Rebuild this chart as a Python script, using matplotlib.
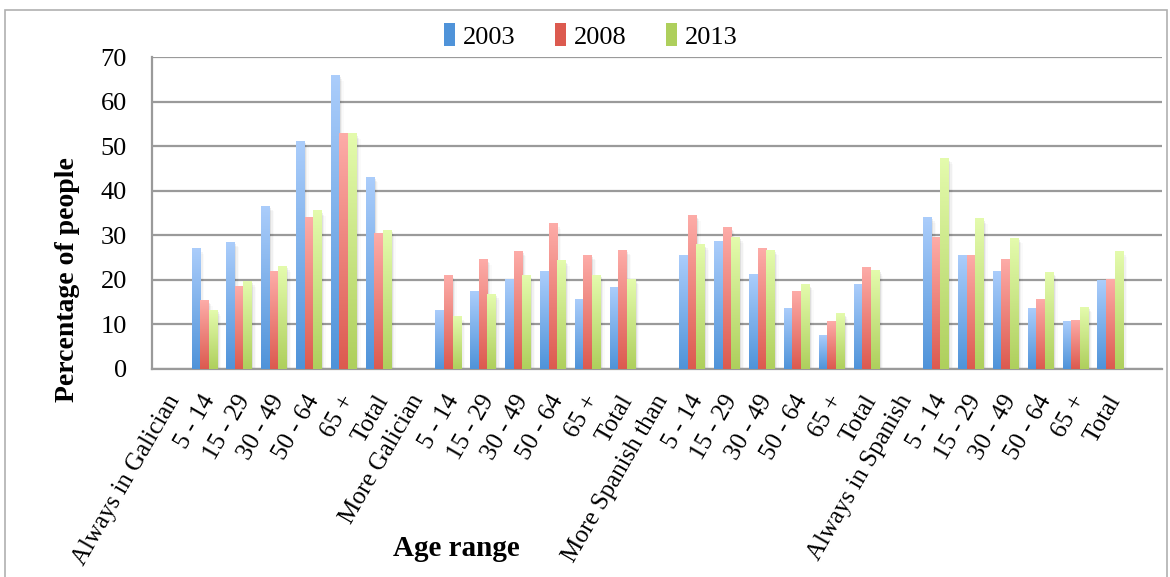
import numpy as np
import matplotlib
matplotlib.use("Agg")
import matplotlib.pyplot as plt
from matplotlib.colors import LinearSegmentedColormap
from matplotlib.patches import Patch, Rectangle
from matplotlib.transforms import ScaledTranslation

plt.rcParams['font.family'] = ['Liberation Serif', 'DejaVu Serif']

categories = ["Always in Galician", "5 - 14", "15 - 29", "30 - 49", "50 - 64", "65 +", "Total",
              "More Galician", "5 - 14", "15 - 29", "30 - 49", "50 - 64", "65 +", "Total",
              "More Spanish than", "5 - 14", "15 - 29", "30 - 49", "50 - 64", "65 +", "Total",
              "Always in Spanish", "5 - 14", "15 - 29", "30 - 49", "50 - 64", "65 +", "Total"]

nan = np.nan
y2003 = [nan, 27.1, 28.5, 36.6, 51.2, 66.0, 43.1,
         nan, 13.2, 17.3, 20.1, 22.0, 15.7, 18.4,
         nan, 25.6, 28.7, 21.3, 13.5, 7.6, 18.9,
         nan, 34.1, 25.6, 21.8, 13.5, 10.6, 19.8]
y2008 = [nan, 15.3, 18.6, 22.0, 34.1, 52.8, 30.4,
         nan, 20.9, 24.5, 26.5, 32.6, 25.6, 26.7,
         nan, 34.4, 31.7, 27.0, 17.3, 10.6, 22.7,
         nan, 29.6, 25.4, 24.5, 15.7, 11.0, 20.2]
y2013 = [nan, 13.2, 19.7, 23.1, 35.5, 52.8, 31.2,
         nan, 11.9, 16.8, 20.9, 24.3, 21.1, 20.2,
         nan, 27.9, 29.6, 26.7, 18.9, 12.4, 22.2,
         nan, 47.2, 33.7, 29.4, 21.6, 13.9, 26.3]

years = ["2003", "2008", "2013"]
series = [y2003, y2008, y2013]
# (top, bottom) colours of the vertical gradient on each bar
grads = [("#abcdfb", "#4f93d9"), ("#fdaca8", "#dc5a4f"), ("#e4fbad", "#aecf5c")]

fig = plt.figure(figsize=(11.7, 5.77), dpi=100)
ax = fig.add_axes([0.130, 0.3605, 0.863, 0.540])

x = np.arange(len(categories))
w = 0.245
grad = np.linspace(1, 0, 256).reshape(-1, 1)

for i, (vals, (top, bot)) in enumerate(zip(series, grads)):
    cmap = LinearSegmentedColormap.from_list(years[i], [bot, top])
    offs = (i - 1) * w
    for xi, v in zip(x, vals):
        if np.isnan(v):
            continue
        x0 = xi + offs - w / 2
        # soft shadow to the right of the bar
        for k, a in enumerate([0.07, 0.04, 0.02]):
            d = 0.04 * (k + 1)
            ax.add_patch(Rectangle((x0 + d, 0), w, max(v - 0.4 * (k + 1), 0),
                                   facecolor='black', edgecolor='none', alpha=a, zorder=2))
        ax.imshow(grad, extent=(x0, x0 + w, 0, v), aspect='auto', cmap=cmap,
                  vmin=0, vmax=1, zorder=3, interpolation='bilinear')

ax.set_xlim(-0.5, 28.48)
ax.set_ylim(0, 70)
ax.set_yticks(np.arange(0, 71, 10))
ax.yaxis.grid(True, color='#9a9a9a', linewidth=1.6, zorder=1)
ax.set_axisbelow(True)
for s in ['top', 'right']:
    ax.spines[s].set_visible(False)
for s in ['left', 'bottom']:
    ax.spines[s].set_color('#9a9a9a')
    ax.spines[s].set_linewidth(1.6)
ax.tick_params(axis='both', length=0, labelsize=19)
ax.tick_params(axis='y', pad=18)

ax.set_xticks(x)
ax.set_xticklabels(categories, rotation=60, ha='right', va='top',
                   rotation_mode='anchor', fontsize=18)
shift = ScaledTranslation(-0.04, -0.17, fig.dpi_scale_trans)
for lab in ax.get_xticklabels():
    lab.set_transform(lab.get_transform() + shift)

fig.text(67 / 1170, 1 - 280 / 577, "Percentage of people", rotation=90, fontsize=20,
         fontweight='bold', ha='center', va='center')
fig.text(456 / 1170, 1 - 548 / 577, "Age range", fontsize=21, fontweight='bold',
         ha='center', va='center')

handles = [Patch(facecolor=g[1], edgecolor='none') for g in grads]
fig.legend(handles, years, loc='center', bbox_to_anchor=(0.505, 0.938), ncol=3,
           frameon=False, fontsize=19, handlelength=0.4, handleheight=1.0,
           handletextpad=0.3, columnspacing=1.5)

# outer chart border
fig.add_artist(Rectangle((5 / 1170, -0.01), 1162 / 1170, 1 - 10 / 577 + 0.01,
                         transform=fig.transFigure, fill=False,
                         edgecolor='#b0b0b0', linewidth=1.2))

fig.savefig("out.png", dpi=100)
